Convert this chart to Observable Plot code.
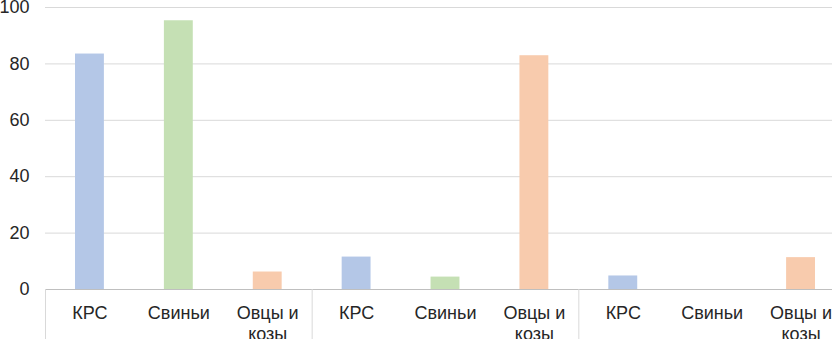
<!DOCTYPE html>
<html>
<head>
<meta charset="utf-8">
<script src="https://cdn.jsdelivr.net/npm/d3@7"></script>
<script src="https://cdn.jsdelivr.net/npm/@observablehq/plot@0.6"></script>
<style>
  html, body { margin: 0; padding: 0; background: #fff; overflow: hidden; }
  #chart svg { display: block; }
</style>
</head>
<body>
<div id="chart"></div>
<script>
// Data
const groups = ["Группа 1", "Группа 2", "Группа 3"];
const categories = ["КРС", "Свиньи", "Овцы и\nкозы"];
const values = [
  [83.5, 95.3, 6.2],
  [11.5, 4.4, 82.9],
  [4.8, 0, 11.3]
];
const yTicks = [0, 20, 40, 60, 80, 100];
const colors = ["#b4c7e7", "#c5e0b4", "#f8cbad"];

const rows = [];
groups.forEach((g, gi) => categories.forEach((c, ci) => {
  rows.push({key: gi * categories.length + ci, group: g, category: c, value: values[gi][ci]});
}));
const keys = rows.map(d => d.key);
const groupStarts = groups.map((g, gi) => gi * categories.length);

const W = 832, H = 339;
const mL = 45, mR = -13, mT = 7, mB = 50;
const bw = (W - mR - mL) / keys.length;

const chart = Plot.plot({
  width: W,
  height: H,
  marginLeft: mL,
  marginRight: mR,
  marginTop: mT,
  marginBottom: mB,
  style: {fontFamily: "Liberation Sans, Arial, sans-serif", fontSize: "18px", color: "#262626", background: "#fff", overflow: "visible"},
  x: {type: "band", domain: keys, padding: 0, round: false, axis: null},
  y: {domain: [0, 100], axis: null},
  color: {domain: categories, range: colors},
  marks: [
    Plot.ruleY(yTicks.filter(t => t > 0), {stroke: "#d9d9d9", strokeWidth: 1}),
    Plot.axisY({ticks: yTicks, tickSize: 0, tickPadding: 16, fontSize: 18, fill: "#262626", label: null}),
    Plot.barY(rows, {x: "key", y: "value", fill: "category", insetLeft: 30, insetRight: 30}),
    Plot.ruleY([0], {stroke: "#bfbfbf", strokeWidth: 1}),
    Plot.ruleX(groupStarts, {
      x: d => d,
      dx: -bw / 2,
      y1: 0, y2: 0, insetBottom: -mB,
      stroke: "#d9d9d9",
      strokeWidth: 1
    }),
    Plot.text(rows, {x: "key", y: 0, text: "category", lineAnchor: "top", dy: 14, lineHeight: 1.2, fontSize: 18, fill: "#262626"})
  ]
});
document.getElementById("chart").appendChild(chart);
</script>
</body>
</html>
